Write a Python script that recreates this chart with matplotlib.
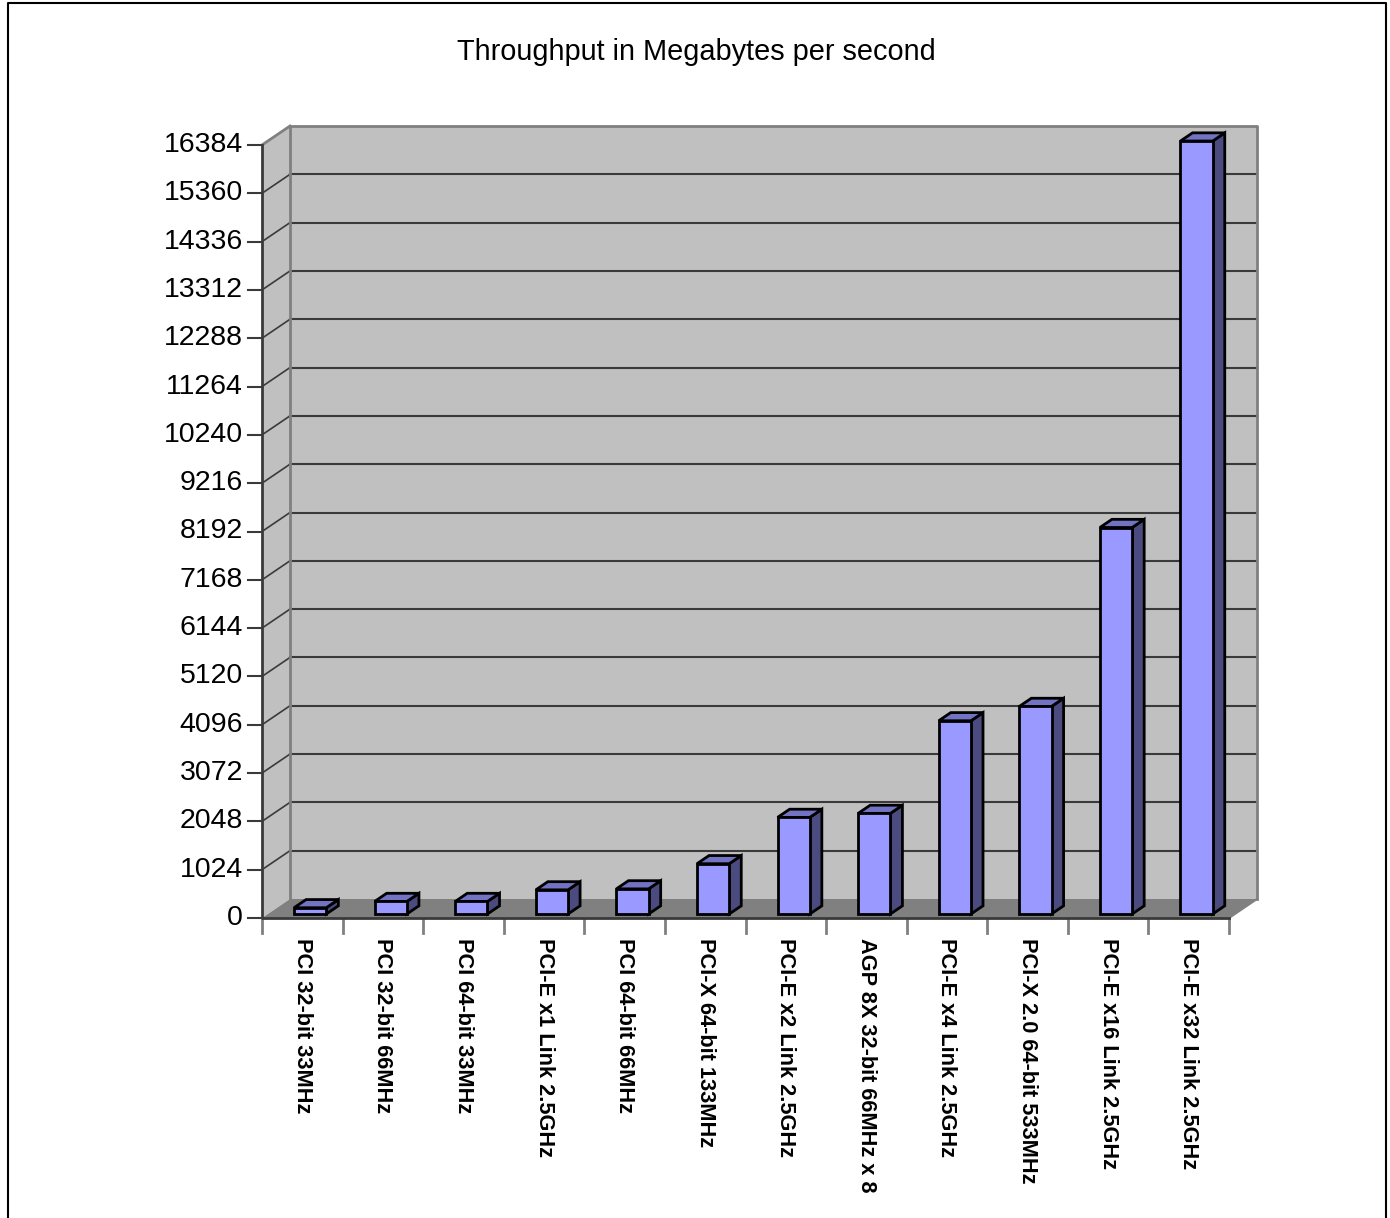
import numpy as np
import matplotlib.pyplot as plt
from matplotlib.patches import Polygon
from matplotlib.lines import Line2D

plt.rcParams['font.family'] = ['Liberation Sans', 'DejaVu Sans']

# --- Data --- #
buses = ['PCI 32-bit 33MHz', 'PCI 32-bit 66MHz', 'PCI 64-bit 33MHz',
         'PCI-E x1 Link 2.5GHz', 'PCI 64-bit 66MHz', 'PCI-X 64-bit 133MHz',
         'PCI-E x2 Link 2.5GHz', 'AGP 8X 32-bit 66MHz x 8', 'PCI-E x4 Link 2.5GHz',
         'PCI-X 2.0 64-bit 533MHz', 'PCI-E x16 Link 2.5GHz', 'PCI-E x32 Link 2.5GHz']
mbps   = [133, 266, 266, 512, 533, 1066, 2048, 2133, 4096, 4400, 8192, 16384]
yticks = np.arange(0, 16385, 1024)

W, H = 1390, 1218
fig = plt.figure(figsize=(W / 100, H / 100), dpi=100)
fig.patch.set_facecolor('white')

# front plane of the 3D box, in pixels
left, right, bottom, top = 262, 1229, 918, 145
ax = fig.add_axes([left / W, 1 - bottom / H, (right - left) / W, (bottom - top) / H])
n = len(buses)
ymax = yticks[-1]
ax.set_xlim(0, n)
ax.set_ylim(0, ymax)
ax.axis('off')

px_x = (right - left) / n
px_y = (bottom - top) / ymax
DX = 28 / px_x      # depth offset (categories)
DY = 19 / px_y      # depth offset (value units)

def P(x, y, z):
    return (x + z * DX, y + z * DY)

def poly(pts, fc, ec='none', lw=0, z=1):
    ax.add_patch(Polygon(pts, closed=True, facecolor=fc, edgecolor=ec,
                         linewidth=lw, clip_on=False, zorder=z, joinstyle='miter'))

def line(pts, color, lw, z=2):
    xs, ys = zip(*pts)
    ax.add_line(Line2D(xs, ys, color=color, linewidth=lw, clip_on=False, zorder=z))

# walls and floor
poly([P(0, 0, 0), P(0, ymax, 0), P(0, ymax, 1), P(0, 0, 1)], '#c0c0c0')
poly([P(0, 0, 1), P(n, 0, 1), P(n, ymax, 1), P(0, ymax, 1)], '#c0c0c0')
poly([P(0, 0, 0), P(n, 0, 0), P(n, 0, 1), P(0, 0, 1)], '#808080')

# grid lines on back and side wall
for v in yticks[1:-1]:
    line([P(0, v, 1), P(n, v, 1)], '#3a3a3a', 1.5)
    line([P(0, v, 0), P(0, v, 1)], '#3a3a3a', 1.2)

# wall borders
line([P(0, 0, 1), P(0, ymax, 1), P(n, ymax, 1), P(n, 0, 1)], '#808080', 2)
line([P(0, ymax, 0), P(0, ymax, 1)], '#808080', 2)
line([P(n, 0, 0), P(n, 0, 1)], '#808080', 1.5)
line([P(0, ymax, 0), P(0, 0, 0), P(n, 0, 0)], '#3a3a3a', 2, z=3)

# y ticks and labels
for v in yticks:
    line([(-14 / px_x, v), (0, v)], '#3a3a3a', 1.5)
    ax.text(-19 / px_x, v, str(v), ha='right', va='center', fontsize=20.5)

# x ticks and labels
for i in range(n + 1):
    line([(i, 0), (i, -15 / px_y)], '#808080', 2)
for i, name in enumerate(buses):
    ax.text(i + 0.5, -20 / px_y, name, rotation=270, ha='center', va='top',
            fontsize=15.7, fontweight='bold')

# bars
z0, z1 = 0.21, 0.64
off, bw = 0.325, 0.4
for i, v in enumerate(mbps):
    xl, xr = i + off, i + off + bw
    poly([P(xr, 0, z0), P(xr, 0, z1), P(xr, v, z1), P(xr, v, z0)], '#4b4b80', 'black', 2, 5)
    poly([P(xl, v, z0), P(xr, v, z0), P(xr, v, z1), P(xl, v, z1)], '#7373c4', 'black', 2, 5)
    poly([P(xl, 0, z0), P(xr, 0, z0), P(xr, v, z0), P(xl, v, z0)], '#9999ff', 'black', 2, 6)

fig.text(696 / W, 1 - 52 / H, 'Throughput in Megabytes per second',
         ha='center', va='center', fontsize=20.8)

# outer frame
fig.add_artist(Line2D([8 / W, 8 / W, 1386 / W, 1386 / W], [0, 1 - 3 / H, 1 - 3 / H, 0],
                      transform=fig.transFigure, color='black', linewidth=1.5))

fig.savefig('out.png', dpi=100)
